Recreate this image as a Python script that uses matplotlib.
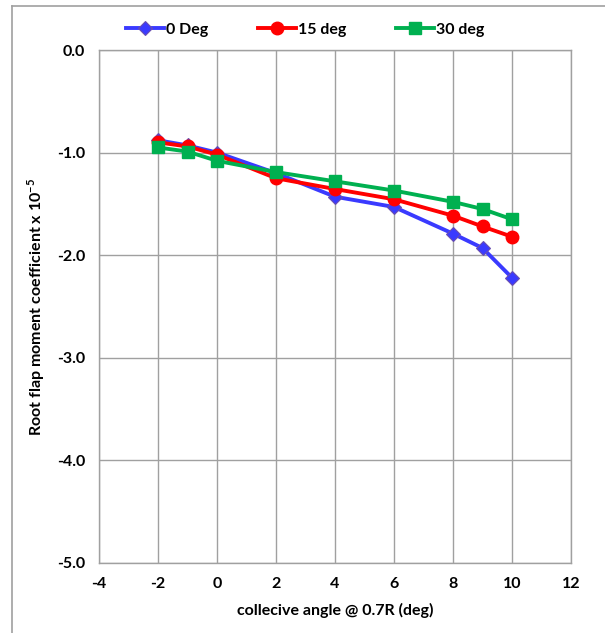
import matplotlib
matplotlib.use("Agg")
import matplotlib.pyplot as plt
from matplotlib.lines import Line2D

plt.rcParams['font.family'] = ['Lato', 'DejaVu Sans']
plt.rcParams['font.weight'] = 'bold'
plt.rcParams['axes.unicode_minus'] = False
plt.rcParams['mathtext.fontset'] = 'custom'
plt.rcParams['mathtext.rm'] = 'Lato'
plt.rcParams['mathtext.bf'] = 'Lato:bold'

# collective angle (deg)
collective = [-2, -1, 0, 2, 4, 6, 8, 9, 10]
# root flap moment coefficient (x 1e-5) for each skew angle
deg0 = [-0.88, -0.93, -1.00, -1.20, -1.43, -1.53, -1.79, -1.93, -2.22]
deg15 = [-0.90, -0.94, -1.02, -1.25, -1.355, -1.455, -1.615, -1.72, -1.82]
deg30 = [-0.95, -0.99, -1.08, -1.19, -1.28, -1.37, -1.48, -1.55, -1.65]
series_labels = ['0 Deg', '15 deg', '30 deg']

x_ticks = [-4, -2, 0, 2, 4, 6, 8, 10, 12]
y_ticks = [0.0, -1.0, -2.0, -3.0, -4.0, -5.0]

W, H = 605, 633
fig = plt.figure(figsize=(W / 100, H / 100), dpi=100)
ax = fig.add_axes([99 / W, 1 - 563 / H, (571 - 99) / W, (563 - 50) / H])

grid_c = '#a0a0a0'
ax.plot(collective, deg0, color='#3a3aff', lw=2.8, marker='D', ms=7,
        mfc='#3a3aff', mec='#6a4fb0', mew=0.8, label=series_labels[0], zorder=3)
ax.plot(collective, deg15, color='#ff0000', lw=2.8, marker='o', ms=9,
        mfc='#ff0000', mec='#ff0000', label=series_labels[1], zorder=4)
ax.plot(collective, deg30, color='#00b050', lw=2.8, marker='s', ms=8.5,
        mfc='#00b050', mec='#00b050', label=series_labels[2], zorder=5)

ax.set_xlim(-4, 12)
ax.set_ylim(-5, 0)
ax.set_xticks(x_ticks)
ax.set_yticks(y_ticks)
ax.set_xticklabels([str(v) for v in x_ticks])
ax.set_yticklabels([f'{v:.1f}' for v in y_ticks])
ax.grid(True, color=grid_c, lw=1.0)
ax.set_axisbelow(True)
for s in ax.spines.values():
    s.set_color(grid_c)
    s.set_linewidth(1.0)
ax.tick_params(length=0, labelsize=11.5, pad=10)
for lab in ax.get_xticklabels() + ax.get_yticklabels():
    lab.set_fontweight('bold')

ax.set_xlabel('collecive angle @ 0.7R (deg)', fontsize=11.5, fontweight='bold', labelpad=9)
ax.set_ylabel(r'Root flap moment coefficient x 10$^{-5}$', fontsize=11.5,
              fontweight='bold', labelpad=7)

leg = fig.legend(loc='center', bbox_to_anchor=(305 / W, 1 - 30 / H), ncol=3,
                 frameon=False, handlelength=2.4, handletextpad=0.1,
                 columnspacing=3.1, prop={'weight': 'bold', 'size': 11.5})

# outer chart frame (top and left edges)
fig.add_artist(Line2D([12 / W, 1], [1 - 6 / H, 1 - 6 / H], color=grid_c, lw=1.2,
                      transform=fig.transFigure))
fig.add_artist(Line2D([12 / W, 12 / W], [0, 1 - 6 / H], color=grid_c, lw=1.2,
                      transform=fig.transFigure))

fig.savefig('out.png', dpi=100)
